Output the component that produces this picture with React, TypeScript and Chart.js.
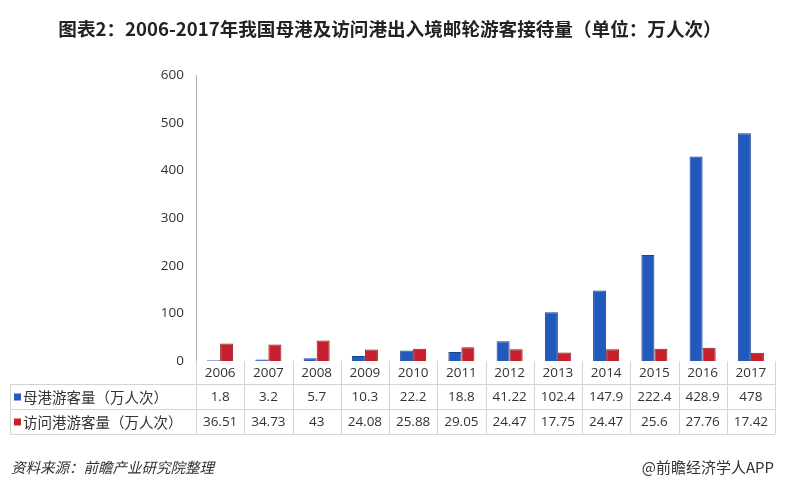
import React, { useEffect, useRef } from "react";
import { Chart, registerables } from "chart.js";

Chart.register(...registerables);

const TITLE = "图表2：2006-2017年我国母港及访问港出入境邮轮游客接待量（单位：万人次）";
const SOURCE = "资料来源：前瞻产业研究院整理";
const CREDIT = "@前瞻经济学人APP";

const years = ["2006", "2007", "2008", "2009", "2010", "2011", "2012", "2013", "2014", "2015", "2016", "2017"];
const homePortLabel = "母港游客量（万人次）";
const homePort = [1.8, 3.2, 5.7, 10.3, 22.2, 18.8, 41.22, 102.4, 147.9, 222.4, 428.9, 478];
const homePortText = ["1.8", "3.2", "5.7", "10.3", "22.2", "18.8", "41.22", "102.4", "147.9", "222.4", "428.9", "478"];
const visitPortLabel = "访问港游客量（万人次）";
const visitPort = [36.51, 34.73, 43, 24.08, 25.88, 29.05, 24.47, 17.75, 24.47, 25.6, 27.76, 17.42];
const visitPortText = ["36.51", "34.73", "43", "24.08", "25.88", "29.05", "24.47", "17.75", "24.47", "25.6", "27.76", "17.42"];
const yTicks = [0, 100, 200, 300, 400, 500, 600];

const BLUE = "#2159bd";
const RED = "#c5202b";
const CJK = '"Noto Sans CJK SC", "Noto Sans", sans-serif';
const NUM = '"Open Sans", "Noto Sans", sans-serif';

const tablePlugin = {
  id: "tableAndText",
  afterDraw(chart: any) {
    const ctx = chart.ctx as CanvasRenderingContext2D;
    const area = chart.chartArea;
    const x = chart.scales.x;
    const n = years.length;
    const colW = (area.right - area.left) / n;
    const top = area.bottom;
    const rowH = [23, 25, 25];
    const r1 = top + rowH[0];
    const r2 = r1 + rowH[1];
    const r3 = r2 + rowH[2];
    const tableLeft = 10;

    ctx.save();
    ctx.strokeStyle = "#d4d4d4";
    ctx.lineWidth = 1;
    ctx.beginPath();
    for (let i = 0; i <= n; i++) {
      const xx = Math.round(area.left + i * colW) + 0.5;
      ctx.moveTo(xx, top);
      ctx.lineTo(xx, r3);
    }
    ctx.moveTo(tableLeft + 0.5, r1);
    ctx.lineTo(tableLeft + 0.5, r3);
    [r1, r2, r3].forEach((yy) => {
      ctx.moveTo(tableLeft, Math.round(yy) + 0.5);
      ctx.lineTo(area.right, Math.round(yy) + 0.5);
    });
    ctx.stroke();

    ctx.fillStyle = "#333333";
    ctx.textAlign = "center";
    ctx.textBaseline = "middle";
    ctx.font = `13.5px ${NUM}`;
    years.forEach((yr, i) => {
      const cx = x.getPixelForValue(i);
      ctx.fillText(yr, cx, top + rowH[0] / 2 + 1);
      ctx.fillText(homePortText[i], cx, r1 + rowH[1] / 2 + 1);
      ctx.fillText(visitPortText[i], cx, r2 + rowH[2] / 2 + 1);
    });

    ctx.textAlign = "left";
    ctx.font = `14.5px ${CJK}`;
    ctx.fillStyle = BLUE;
    ctx.fillRect(14, r1 + rowH[1] / 2 - 3, 7, 7);
    ctx.fillStyle = RED;
    ctx.fillRect(14, r2 + rowH[2] / 2 - 3, 7, 7);
    ctx.fillStyle = "#333333";
    ctx.fillText(homePortLabel, 23, r1 + rowH[1] / 2 + 1);
    ctx.fillText(visitPortLabel, 23, r2 + rowH[2] / 2 + 1);

    ctx.textAlign = "center";
    ctx.fillStyle = "#222222";
    ctx.font = `bold 18.6px ${CJK}`;
    ctx.fillText(TITLE, 390, 29);

    ctx.textAlign = "left";
    ctx.fillStyle = "#333333";
    ctx.font = `italic 14.5px ${CJK}`;
    ctx.fillText(SOURCE, 11, 467);
    ctx.textAlign = "right";
    ctx.font = `15px ${CJK}`;
    ctx.fillText(CREDIT, 774, 467);
    ctx.restore();
  },
};

export default function App() {
  const ref = useRef<HTMLCanvasElement>(null);

  useEffect(() => {
    document.body.style.margin = "0";
    const canvas = ref.current!;
    const chart = new Chart(canvas, {
      type: "bar",
      data: {
        labels: years,
        datasets: [
          {
            label: homePortLabel,
            data: homePort,
            backgroundColor: BLUE,
            borderColor: "#1a458f",
            borderWidth: 1,
            categoryPercentage: 0.54,
            barPercentage: 1,
          },
          {
            label: visitPortLabel,
            data: visitPort,
            backgroundColor: RED,
            borderColor: "#8f1820",
            borderWidth: 1,
            categoryPercentage: 0.54,
            barPercentage: 1,
          },
        ],
      },
      options: {
        responsive: false,
        animation: false,
        devicePixelRatio: 1,
        layout: { padding: { left: 0, right: 12, top: 75, bottom: 129 } },
        plugins: {
          legend: { display: false },
          title: { display: false },
          tooltip: { enabled: false },
        },
        scales: {
          x: {
            display: false,
            grid: { display: false },
          },
          y: {
            min: 0,
            max: 600,
            afterFit(scale: any) {
              scale.width = 196;
            },
            afterBuildTicks(scale: any) {
              scale.ticks = yTicks.map((v) => ({ value: v }));
            },
            grid: { display: false, drawTicks: false },
            border: { display: true, color: "#b0b0b0", width: 1 },
            ticks: {
              padding: 12,
              color: "#333333",
              font: { size: 13.5, family: NUM },
            },
          },
        },
      },
      plugins: [tablePlugin],
    });
    return () => chart.destroy();
  }, []);

  return (
    <div style={{ position: "fixed", left: 0, top: 0, width: 787, height: 490, background: "#fff" }}>
      <canvas ref={ref} width={787} height={490} style={{ width: 787, height: 490 }} />
    </div>
  );
}
